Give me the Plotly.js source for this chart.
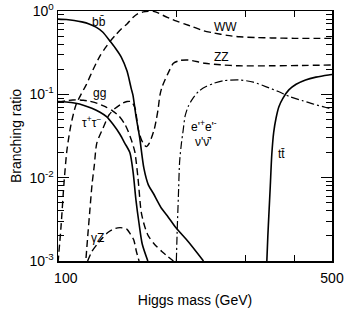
<!DOCTYPE html>
<html><head><meta charset="utf-8">
<script src="https://cdn.plot.ly/plotly-3.0.1.min.js"></script>
<style>html,body{margin:0;padding:0;background:#fff}</style>
</head><body><div id="chart" style="width:344px;height:310px"></div>
<script>
// ---- data (Higgs mass in GeV, branching ratio) ----
const massBB = [100,105,110,115,120,125,130,136,140,145,150,153.7,155.3,158,161.6,165.6,170,175,183.6,190,200,215,235];
const brBB   = [0.80,0.79,0.77,0.74,0.70,0.64,0.56,0.43,0.36,0.28,0.19,0.118,0.098,0.056,0.030,0.013,0.0082,0.0065,0.0043,0.0035,0.0025,0.0017,0.001];

const massTauTau = [100,105,111,116,122,128,133,138,144,148,152.5,155.5,158,161,164,169.5];
const brTauTau   = [0.082,0.081,0.078,0.074,0.068,0.061,0.054,0.044,0.033,0.026,0.020,0.0115,0.0055,0.0028,0.0016,0.001];

const massGG = [100,105,111,116,120,126,132,138,143,148,151,154,157,160,163,166,170,176,184,197];
const brGG   = [0.080,0.084,0.086,0.085,0.083,0.078,0.071,0.063,0.055,0.044,0.036,0.028,0.0205,0.0098,0.0039,0.0027,0.0020,0.0016,0.0013,0.001];

const massWW = [100,101.8,103.6,105.4,107.9,111.1,114.5,118,123,128,132,135.7,140,145,150,155,160,165,170,175,180,185,190,195,200,210,220,235,250,270,290,320,350,400,450,500];
const brWW   = [0.00095,0.0026,0.0087,0.0215,0.043,0.0745,0.10,0.13,0.20,0.29,0.36,0.43,0.51,0.61,0.70,0.83,0.93,0.975,0.99,0.99,0.95,0.89,0.84,0.80,0.76,0.70,0.65,0.58,0.545,0.51,0.49,0.48,0.475,0.47,0.47,0.47];

const massZZ = [117.3,119.1,120.6,122.1,123.8,125.6,130.3,134.9,140,146,150,153.8,157.2,160,163,166,168.1,171,173,176,178.4,180,182,184,187.5,192,197,205,215.4,237,260,289,350,420,500];
const brZZ   = [0.0008,0.0020,0.0041,0.0082,0.0142,0.026,0.0394,0.0565,0.068,0.078,0.082,0.0816,0.0686,0.0394,0.029,0.0247,0.0236,0.026,0.0297,0.038,0.0516,0.066,0.098,0.12,0.149,0.19,0.236,0.255,0.258,0.236,0.226,0.22,0.22,0.222,0.225];

const massGammaZ = [119,122,126,130,134,138,142,146,150,153,156,158.5,161];
const brGammaZ   = [0.001,0.0013,0.0016,0.0019,0.0022,0.0024,0.0025,0.0025,0.0024,0.0021,0.0018,0.0013,0.001];

const massLep = [200.4,201.5,202.8,204.3,206.5,208.6,211,215,220,228,238,250,265,290,315,340,365,390,420,450,480,500];
const brLep   = [0.001,0.0025,0.0059,0.0156,0.026,0.037,0.055,0.072,0.087,0.108,0.123,0.136,0.146,0.149,0.140,0.123,0.108,0.094,0.084,0.076,0.070,0.066];

const massTT = [341,343,345,348,351,355,360,366,375,388,405,428,455,490,500];
const brTT   = [0.001,0.002,0.0035,0.008,0.0187,0.035,0.052,0.071,0.090,0.113,0.132,0.149,0.161,0.171,0.173];

const yTickVals = [0.001,0.01,0.1,1];
const yTickText = ['10<sup>-3</sup>','10<sup>-2</sup>','10<sup>-1</sup>','10<sup>0</sup>'];
const xTickVals = [100,200,300,400,500];
const xTickText = ['\u00a0\u00a0\u00a0\u00a0100','','','','500'];

// ---- chart ----
const DASH = '7px,4px';
const DASHDOT = '8px,3px,2px,3px';
function tr(x, y, dash, w){
  return {x:x, y:y, type:'scatter', mode:'lines', hoverinfo:'skip',
          line:{color:'#000', width:w||1.4, dash:dash, shape:'spline', smoothing:0.7}};
}
const data = [
  tr(massBB, brBB, 'solid', 1.6),
  tr(massTauTau, brTauTau, 'solid', 1.6),
  tr(massTT, brTT, 'solid', 1.6),
  tr(massGG, brGG, DASH),
  tr(massWW, brWW, DASH),
  tr(massZZ, brZZ, DASH),
  tr(massGammaZ, brGammaZ, DASH),
  tr(massLep, brLep, DASHDOT, 1.2)
];

const minorY = [];
for (let e = -3; e < 0; e++) for (let k = 2; k <= 9; k++) minorY.push(k * Math.pow(10, e));

const FONT = 'Liberation Sans, Arial, Helvetica, sans-serif';
function px(p){ return (p - 58) / 274; }
function py(p){ return (261 - p) / 250; }
function lab(text, x, y){
  return {text:text, xref:'paper', yref:'paper', x:px(x), y:py(y), xanchor:'center', yanchor:'middle',
          showarrow:false, font:{family:FONT, size:12, color:'#000'}};
}

const layout = {
  width:344, height:310,
  margin:{l:58, r:12, t:11, b:49},
  paper_bgcolor:'#fff', plot_bgcolor:'#fff',
  showlegend:false,
  font:{family:FONT, size:14, color:'#000'},
  xaxis:{type:'log', range:[2, Math.log10(500)], tickmode:'array', tickvals:xTickVals, ticktext:xTickText,
         ticks:'inside', ticklen:6, tickwidth:1, tickcolor:'#000', showline:true, linecolor:'#000', linewidth:1.5,
         mirror:'ticks', showgrid:false, zeroline:false, tickfont:{size:14}, ticklabelstandoff:4,
         title:{text:'Higgs mass (GeV)', font:{size:14}, standoff:10}},
  yaxis:{type:'log', range:[-3, 0], tickmode:'array', tickvals:yTickVals, ticktext:yTickText,
         ticks:'inside', ticklen:11, tickwidth:1, tickcolor:'#000', showline:true, linecolor:'#000', linewidth:1.5,
         mirror:'ticks', showgrid:false, zeroline:false, tickfont:{size:14},
         minor:{tickmode:'array', tickvals:minorY, ticks:'inside', ticklen:6, tickwidth:1, tickcolor:'#000', showgrid:false},
         title:{text:'Branching ratio', font:{size:14}, standoff:4}},
  annotations:[
    lab('bb\u0304', 99, 22),
    lab('WW', 225, 27),
    lab('ZZ', 221.5, 57),
    lab('gg', 99.5, 93),
    lab('\u03c4<sup>+</sup>\u03c4<sup>\u2212</sup>', 91, 122),
    lab('\u03b3Z', 97, 238),
    lab("e'<sup>+</sup>e'<sup>-</sup>", 204, 126),
    lab("\u03bd'\u03bd\u0304'", 203, 142),
    lab('tt\u0304', 281, 154)
  ]
};

Plotly.newPlot('chart', data, layout, {staticPlot:true, displayModeBar:false});
</script>
</body></html>
